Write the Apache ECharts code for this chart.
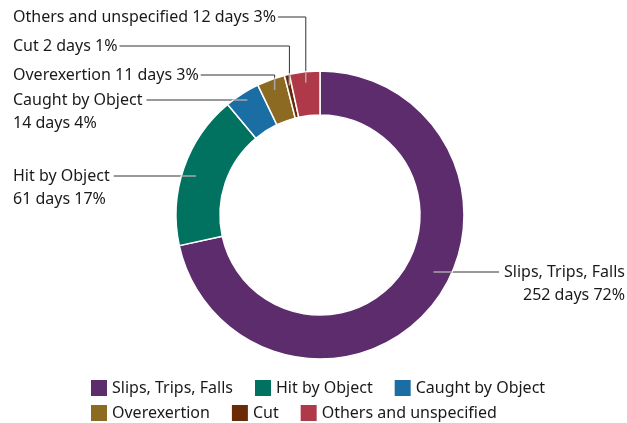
<!DOCTYPE html>
<html>
<head>
<meta charset="utf-8">
<script src="https://cdn.jsdelivr.net/npm/echarts@6/dist/echarts.min.js"></script>
<style>
    html, body { margin: 0; padding: 0; background: #fff; }
    #chart { width: 627px; height: 423px; }
</style>
</head>
<body>
<div id="chart"></div>
<script>
// 数据
const categories = ['Slips, Trips, Falls', 'Hit by Object', 'Caught by Object', 'Overexertion', 'Cut', 'Others and unspecified'];
const days = [252, 61, 14, 11, 2, 12];
const colors = ['#5c2c6d', '#00725f', '#1b6ea4', '#8d6a22', '#6a2a06', '#b03949'];

// 两行标签的类别
const twoLine = [true, true, true, false, false, false];

const CENTER = [320, 215];
const R_OUT = 144;
const R_IN = 100;
const FONT = 'Noto Sans';
const FONT_SIZE = 16;
const LINE_H = 23;

const chart = echarts.init(document.getElementById('chart'));

// 标签位置 (文字左/右边缘, 第一行中线)
const labelSpots = [
    { x: 625, y: 272, align: 'right' },
    { x: 13, y: 176, align: 'left' },
    { x: 13, y: 100, align: 'left' },
    { x: 13, y: 75, align: 'left' },
    { x: 13, y: 46, align: 'left' },
    { x: 13, y: 17, align: 'left' }
];

// 计算引导线的关键点: 环内锚点, 环外缘交点, 标签端点
function guidePoints(params) {
    const i = params.dataIndex;
    const spot = labelSpots[i];
    const p0 = params.labelLinePoints ? params.labelLinePoints[0] : [CENTER[0], CENTER[1] - 1];
    const dx = p0[0] - CENTER[0];
    const dy = p0[1] - CENTER[1];
    const len = Math.sqrt(dx * dx + dy * dy) || 1;
    const w = params.labelRect.width;
    const ddy = spot.y - CENTER[1];

    if (i === 0) {
        const r = 127;
        const anchor = [CENTER[0] + Math.sqrt(r * r - ddy * ddy), spot.y];
        const edge = [CENTER[0] + Math.sqrt(R_OUT * R_OUT - ddy * ddy), spot.y];
        return { anchor, edge, path: [anchor, [spot.x - w - 5, spot.y], [spot.x - w - 5, spot.y]] };
    }
    if (i <= 2) {
        const r = i === 1 ? 130 : 136;
        const anchor = [CENTER[0] - Math.sqrt(r * r - ddy * ddy), spot.y];
        const edge = [CENTER[0] - Math.sqrt(R_OUT * R_OUT - ddy * ddy), spot.y];
        return { anchor, edge, path: [anchor, [spot.x + w + 4, spot.y], [spot.x + w + 4, spot.y]] };
    }
    const r = 133;
    const anchor = [CENTER[0] + dx / len * r, CENTER[1] + dy / len * r];
    const ddx = anchor[0] - CENTER[0];
    const edge = [anchor[0], CENTER[1] - Math.sqrt(R_OUT * R_OUT - ddx * ddx)];
    return { anchor, edge, path: [anchor, [anchor[0], spot.y], [spot.x + w + 2, spot.y]] };
}

function placeLabel(params, points) {
    const i = params.dataIndex;
    const spot = labelSpots[i];
    return {
        x: spot.x,
        y: twoLine[i] ? spot.y - LINE_H / 2 : spot.y,
        align: spot.align,
        verticalAlign: twoLine[i] ? 'top' : 'middle',
        labelLinePoints: points
    };
}

// 主系列: 深色引导线 (在扇区下方)
function mainLayout(params) {
    return placeLabel(params, guidePoints(params).path);
}

// 辅助系列: 扇区内部的浅色引导线
function innerLayout(params) {
    const g = guidePoints(params);
    const mid = [(g.anchor[0] + g.edge[0]) / 2, (g.anchor[1] + g.edge[1]) / 2];
    return placeLabel(params, [g.anchor, mid, g.edge]);
}

function labelText(p) {
    const sep = twoLine[p.dataIndex] ? '\n' : ' ';
    return p.name + sep + p.value + ' days ' + p.percent + '%';
}

const seriesData = categories.map((name, i) => ({
    name: name,
    value: days[i],
    itemStyle: { color: colors[i] }
}));

const helperData = categories.map((name, i) => ({
    name: name,
    value: days[i]
}));

const legendBase = {
    left: 91,
    padding: 0,
    itemGap: 22,
    itemWidth: 16,
    itemHeight: 16,
    icon: 'rect',
    itemStyle: { borderWidth: 0 },
    textStyle: { fontFamily: FONT, fontSize: FONT_SIZE, color: '#1a1a1a' }
};

const option = {
    animation: false,
    legend: [
        Object.assign({ data: categories.slice(0, 3), top: 380 }, legendBase),
        Object.assign({ data: categories.slice(3), top: 405 }, legendBase)
    ],
    series: [
        {
            type: 'pie',
            z: 2,
            center: CENTER,
            radius: [R_IN, R_OUT],
            startAngle: 90,
            clockwise: true,
            percentPrecision: 0,
            avoidLabelOverlap: false,
            itemStyle: {
                borderColor: '#fff',
                borderWidth: 1.5
            },
            label: {
                show: true,
                fontFamily: FONT,
                fontSize: FONT_SIZE,
                lineHeight: LINE_H,
                color: '#1a1a1a',
                formatter: labelText
            },
            labelLine: {
                show: true,
                showAbove: false,
                lineStyle: { color: '#333', width: 1 }
            },
            labelLayout: mainLayout,
            emphasis: { disabled: true },
            data: seriesData
        },
        {
            type: 'pie',
            z: 6,
            silent: true,
            center: CENTER,
            radius: [R_IN, R_OUT],
            startAngle: 90,
            clockwise: true,
            percentPrecision: 0,
            avoidLabelOverlap: false,
            itemStyle: { color: 'rgba(0,0,0,0)', borderWidth: 0 },
            label: {
                show: true,
                fontFamily: FONT,
                fontSize: FONT_SIZE,
                lineHeight: LINE_H,
                color: 'rgba(0,0,0,0)',
                formatter: labelText
            },
            labelLine: {
                show: true,
                showAbove: true,
                lineStyle: { color: '#a8a8a8', width: 1.5 }
            },
            labelLayout: innerLayout,
            emphasis: { disabled: true },
            data: helperData
        }
    ]
};

chart.setOption(option);
</script>
</body>
</html>
